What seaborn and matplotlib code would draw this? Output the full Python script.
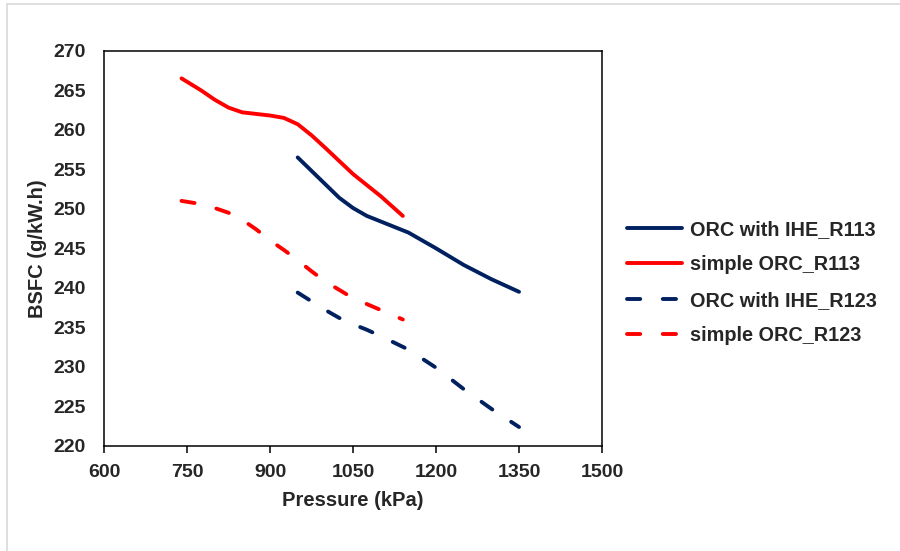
import matplotlib
matplotlib.use("Agg")
import matplotlib.pyplot as plt
import seaborn as sns
import pandas as pd
from matplotlib.lines import Line2D

# ---- data ----
p_simple = [740, 775, 800, 825, 850, 875, 900, 925, 950, 975, 1000, 1050, 1100, 1140]
bsfc_simple_r113 = [266.5, 265.0, 263.8, 262.8, 262.2, 262.0, 261.8, 261.5, 260.7,
                    259.3, 257.7, 254.4, 251.6, 249.1]
bsfc_simple_r123 = [251.0, 250.6, 250.1, 249.5, 248.6, 247.4, 246.0, 244.8, 243.5,
                    242.1, 240.8, 238.7, 237.2, 236.0]

p_ihe = [950, 975, 1000, 1025, 1050, 1075, 1100, 1150, 1200, 1250, 1300, 1350]
bsfc_ihe_r113 = [256.5, 254.8, 253.1, 251.4, 250.1, 249.1, 248.4, 247.0, 245.0,
                 242.9, 241.1, 239.5]
bsfc_ihe_r123 = [239.4, 238.3, 237.2, 236.2, 235.4, 234.7, 233.9, 232.2, 229.9,
                 227.2, 224.7, 222.4]

series_labels = ["ORC with IHE_R113", "simple ORC_R113",
                 "ORC with IHE_R123", "simple ORC_R123"]
x_ticks = [600, 750, 900, 1050, 1200, 1350, 1500]
y_ticks = [220, 225, 230, 235, 240, 245, 250, 255, 260, 265, 270]

NAVY = "#002060"
RED = "#FF0000"
LW = 2.8

sns.set_theme(style="white")
plt.rcParams["font.family"] = ["Liberation Sans", "DejaVu Sans"]

fig = plt.figure(figsize=(9.0, 5.51), dpi=100)
ax = fig.add_axes([0.1156, 0.1906, 0.5533, 0.7174])

dash = (0, (3.4, 5.8))
specs = [
    (p_ihe, bsfc_ihe_r113, NAVY, "-"),
    (p_simple, bsfc_simple_r113, RED, "-"),
    (p_ihe, bsfc_ihe_r123, NAVY, dash),
    (p_simple, bsfc_simple_r123, RED, dash),
]
for (xs, ys, col, ls), lab in zip(specs, series_labels):
    df = pd.DataFrame({"Pressure": xs, "BSFC": ys})
    sns.lineplot(data=df, x="Pressure", y="BSFC", ax=ax, color=col,
                 linewidth=LW, linestyle=ls, label=lab,
                 solid_capstyle="round", dash_capstyle="round",
                 solid_joinstyle="round")

ax.set_xlim(600, 1500)
ax.set_ylim(220, 270)
ax.set_xticks(x_ticks)
ax.set_yticks(y_ticks)
ax.set_xticklabels([str(v) for v in x_ticks], fontsize=14, fontweight="bold")
ax.set_yticklabels([str(v) for v in y_ticks], fontsize=14, fontweight="bold")
ax.tick_params(axis="x", direction="out", length=5, width=1.1, color="black",
               pad=8, bottom=True)
ax.tick_params(axis="y", length=0, pad=13, left=False)
for s in ax.spines.values():
    s.set_visible(True)
    s.set_color("black")
    s.set_linewidth(1.1)
ax.grid(False)

ax.set_xlabel("Pressure (kPa)", fontsize=14.5, fontweight="bold", labelpad=7)
ax.set_ylabel("BSFC (g/kW.h)", fontsize=14.5, fontweight="bold", labelpad=5)

ax.get_legend().remove()
handles = [Line2D([], [], color=c, linewidth=LW, linestyle=ls,
                  solid_capstyle="round", dash_capstyle="round")
           for (_, _, c, ls) in specs]
leg = fig.legend(handles, series_labels, loc="upper left",
                 bbox_to_anchor=(627 / 900, 1 - 220 / 551),
                 frameon=False, handlelength=2.75, handletextpad=0.4,
                 labelspacing=0.82, borderaxespad=0, borderpad=0,
                 prop={"weight": "bold", "size": 14.3})

# light outer frame (left and top edges visible in the reference)
fig.add_artist(Line2D([7 / 900, 7 / 900], [0, 1 - 4 / 551],
                      transform=fig.transFigure, color="#D9D9D9", linewidth=1.2))
fig.add_artist(Line2D([7 / 900, 1], [1 - 4 / 551, 1 - 4 / 551],
                      transform=fig.transFigure, color="#D9D9D9", linewidth=1.2))

fig.savefig("out.png", dpi=100, facecolor="white")
